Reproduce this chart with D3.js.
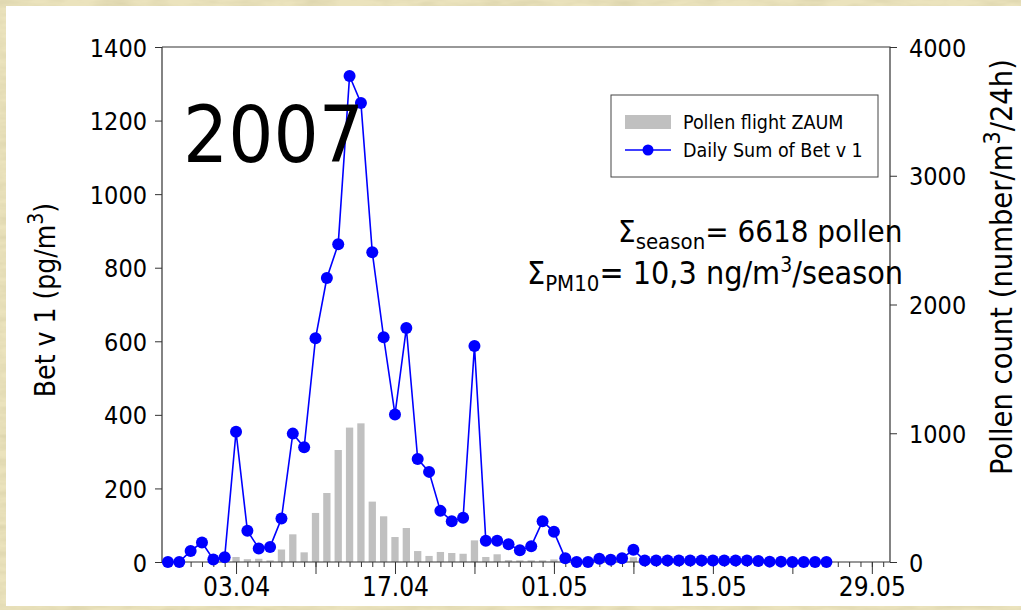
<!DOCTYPE html>
<html>
<head>
<meta charset="utf-8">
<script src="https://cdn.jsdelivr.net/npm/d3@7"></script>
<style>
  body { margin: 0; background: #e8dfba; }
  svg { display: block; }
  text { font-family: "DejaVu Sans Condensed", "DejaVu Sans", sans-serif; fill: #000; }
</style>
</head>
<body>
<svg id="chart" width="1021" height="610"></svg>
<script>
// first day of both series, every value below is one day later than the previous
const firstDay = '2007-03-28';

// Daily Sum of Bet v 1 (pg/m3), left axis
const betV1 = [
  0, 0, 30, 53, 7, 13, 354, 85, 37, 41, 118, 349, 312, 608, 772, 864,
  1321, 1248, 842, 611, 401, 636, 280, 245, 139, 111, 120, 587, 58, 58,
  48, 32, 43, 111, 82, 10, 0, 0, 9, 6, 10, 33, 4, 4, 4, 4, 4, 4, 4, 4,
  4, 4, 3, 1, 1, 0, 0, 0, 0,
];

// Pollen flight ZAUM (number/m3/24h), right axis
const pollen = [
  0, 0, 0, 0, 0, 0, 39, 22, 25, 13, 97, 215, 75, 381, 536, 870, 1044,
  1077, 469, 355, 194, 264, 85, 47, 78, 70, 64, 168, 39, 60, 15, 13, 13,
  13, 20, 5, 5, 5, 5, 5, 5, 37, 3, 3, 2, 2, 2, 2, 1, 1, 1, 1, 1, 0, 0,
  0, 0, 0, 0,
];

const xTickLabels = ['03.04', '17.04', '01.05', '15.05', '29.05'];
const leftTicks = [0, 200, 400, 600, 800, 1000, 1200, 1400];
const rightTicks = [0, 1000, 2000, 3000, 4000];

const legendItems = ['Pollen flight ZAUM', 'Daily Sum of Bet v 1'];

const margin = {
  top: 47,
  right: 131,
  bottom: 48,
  left: 162,
};
const W = 1021;
const H = 610;
const plotRight = W - margin.right;
const plotBottom = H - margin.bottom;

const parse = d3.timeParse('%Y-%m-%d');
const fmt = d3.timeFormat('%d.%m');
const start = parse(firstDay);
const dayOf = i => d3.timeDay.offset(start, i);

const lineData = betV1.map((v, i) => ({ date: dayOf(i), value: v }));
const barData = pollen.map((v, i) => ({ date: dayOf(i), value: v }));

const svg = d3.select('#chart');

// parchment-ish background
const defs = svg.append('defs');
const f = defs.append('filter').attr('id', 'paper')
  .attr('x', 0).attr('y', 0).attr('width', '100%').attr('height', '100%');
f.append('feTurbulence')
  .attr('type', 'fractalNoise')
  .attr('baseFrequency', '0.03 0.12')
  .attr('numOctaves', 3)
  .attr('seed', 4);
f.append('feColorMatrix')
  .attr('type', 'matrix')
  .attr('values', '0 0 0 0 0.62  0 0 0 0 0.57  0 0 0 0 0.34  0.9 0 0 0 -0.3');

svg.append('rect').attr('width', W).attr('height', H).attr('fill', '#ebe3bd');
svg.append('rect').attr('width', W).attr('height', H).attr('filter', 'url(#paper)');

svg.append('rect')
  .attr('x', 6).attr('y', 6)
  .attr('width', W - 6).attr('height', 600)
  .attr('fill', '#fff');

const x = d3.scaleTime()
  .domain([new Date(2007, 2, 27, 11, 30), new Date(2007, 4, 30, 14, 24)])
  .range([margin.left, plotRight]);

const yLeft = d3.scaleLinear()
  .domain([0, 1400])
  .range([plotBottom, margin.top]);

const yRight = d3.scaleLinear()
  .domain([0, 4000])
  .range([plotBottom, margin.top]);

// bars
const barW = 7.3;
svg.append('g')
  .selectAll('rect')
  .data(barData)
  .enter()
  .append('rect')
  .attr('x', d => x(d.date) - barW / 2)
  .attr('y', d => yRight(d.value))
  .attr('width', barW)
  .attr('height', d => plotBottom - yRight(d.value))
  .attr('fill', '#c0c0c0');

// axes
const axisColor = '#333';
const styleAxis = (g) => {
  g.select('.domain').remove();
  g.selectAll('.tick line').attr('stroke', axisColor);
  g.selectAll('.tick text')
    .style('font-family', '"DejaVu Sans Condensed", "DejaVu Sans", sans-serif')
    .attr('fill', '#000');
};

svg.append('g')
  .attr('transform', `translate(${margin.left},0)`)
  .call(d3.axisLeft(yLeft).tickValues(leftTicks).tickFormat(d3.format('d'))
    .tickSize(7).tickPadding(8))
  .call(styleAxis)
  .selectAll('.tick text')
  .style('font-size', '25px')
  .attr('dy', '0.36em');

svg.append('g')
  .attr('transform', `translate(${plotRight},0)`)
  .call(d3.axisRight(yRight).tickValues(rightTicks).tickFormat(d3.format('d'))
    .tickSize(7).tickPadding(12))
  .call(styleAxis)
  .selectAll('.tick text')
  .style('font-size', '25px')
  .attr('dy', '0.36em');

// daily minor ticks, weekly major ticks, labels every second week
const allDays = d3.timeDay.range(new Date(2007, 2, 28), new Date(2007, 4, 31));
const ref = parse('2007-04-03');
const majorDays = allDays.filter(d => d3.timeDay.count(ref, d) % 7 === 0);

svg.append('g')
  .attr('transform', `translate(0,${plotBottom})`)
  .call(d3.axisBottom(x).tickValues(allDays).tickSize(5).tickFormat(''))
  .call(styleAxis);

svg.append('g')
  .attr('transform', `translate(0,${plotBottom})`)
  .call(d3.axisBottom(x).tickValues(majorDays).tickSize(12).tickPadding(4)
    .tickFormat(d => (xTickLabels.includes(fmt(d)) ? fmt(d) : '')))
  .call(styleAxis)
  .selectAll('.tick text')
  .style('font-size', '26px');

// frame
svg.append('path')
  .attr('d', `M${margin.left},${margin.top}V${plotBottom}H${plotRight}V${margin.top}H${margin.left}`)
  .attr('fill', 'none')
  .attr('stroke', axisColor)
  .attr('stroke-width', 1.2);

// line + dots
const line = d3.line().x(d => x(d.date)).y(d => yLeft(d.value));
svg.append('path')
  .datum(lineData)
  .attr('fill', 'none')
  .attr('stroke', '#0000ff')
  .attr('stroke-width', 1.6)
  .attr('d', line);

svg.append('g')
  .selectAll('circle')
  .data(lineData)
  .enter()
  .append('circle')
  .attr('cx', d => x(d.date))
  .attr('cy', d => yLeft(d.value))
  .attr('r', 6)
  .attr('fill', '#0000ff');

// year label
svg.append('text')
  .attr('x', 183)
  .attr('y', 162)
  .style('font-size', '79px')
  .text('2007');

// legend
const lg = svg.append('g').attr('transform', 'translate(611,95)');
lg.append('rect')
  .attr('width', 267).attr('height', 82)
  .attr('fill', '#fff').attr('stroke', '#444').attr('stroke-width', 1);
lg.append('rect')
  .attr('x', 14).attr('y', 20).attr('width', 46).attr('height', 14)
  .attr('fill', '#c0c0c0');
lg.append('line')
  .attr('x1', 14).attr('x2', 60).attr('y1', 55).attr('y2', 55)
  .attr('stroke', '#0000ff').attr('stroke-width', 1.6);
lg.append('circle').attr('cx', 37).attr('cy', 55).attr('r', 5.5).attr('fill', '#0000ff');
lg.selectAll('text.item')
  .data(legendItems)
  .enter()
  .append('text')
  .attr('class', 'item')
  .attr('x', 72)
  .attr('y', (d, i) => 34 + i * 28)
  .style('font-size', '19.5px')
  .text(d => d);

// season sums
const s1 = svg.append('text').attr('x', 618).attr('y', 242).style('font-size', '31px');
s1.append('tspan').text('Σ');
s1.append('tspan').attr('dy', 7).style('font-size', '22px').text('season');
s1.append('tspan').attr('dy', -7).text('= 6618 pollen');

const s2 = svg.append('text').attr('x', 527).attr('y', 284).style('font-size', '32px');
s2.append('tspan').text('Σ');
s2.append('tspan').attr('dy', 7).style('font-size', '22px').text('PM10');
s2.append('tspan').attr('dy', -7).text('= 10,3 ng/m');
s2.append('tspan').attr('dy', -12).style('font-size', '21px').text('3');
s2.append('tspan').attr('dy', 12).text('/season');

// axis titles
const t1 = svg.append('text')
  .attr('transform', 'translate(55,300) rotate(-90)')
  .attr('text-anchor', 'middle')
  .style('font-size', '28px');
t1.append('tspan').text('Bet v 1 (pg/m');
t1.append('tspan').attr('dy', -12).style('font-size', '21px').text('3');
t1.append('tspan').attr('dy', 12).text(')');

const t2 = svg.append('text')
  .attr('transform', 'translate(1012,267) rotate(-90)')
  .attr('text-anchor', 'middle')
  .style('font-size', '30.5px');
t2.append('tspan').text('Pollen count (number/m');
t2.append('tspan').attr('dy', -12).style('font-size', '23px').text('3');
t2.append('tspan').attr('dy', 12).text('/24h)');
</script>
</body>
</html>
